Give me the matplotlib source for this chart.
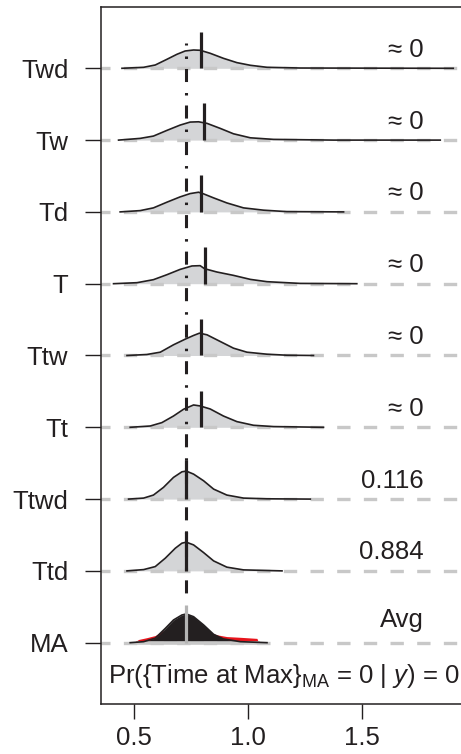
import matplotlib
matplotlib.use("Agg")
import matplotlib.pyplot as plt
import numpy as np

plt.rcParams['font.family'] = ['Liberation Sans', 'DejaVu Sans']
plt.rcParams['mathtext.fontset'] = 'custom'
plt.rcParams['mathtext.rm'] = 'Liberation Sans'
plt.rcParams['mathtext.it'] = 'Liberation Sans:italic'
plt.rcParams['lines.scale_dashes'] = False

# ---------------- data ----------------
models = ['Twd', 'Tw', 'Td', 'T', 'Ttw', 'Tt', 'Ttwd', 'Ttd', 'MA']
row_pos = [8, 7, 6, 5, 4, 3, 2, 1, 0]
probs = ['\u2248 0', '\u2248 0', '\u2248 0', '\u2248 0', '\u2248 0', '\u2248 0',
         '0.116', '0.884', 'Avg']

twd_x = [0.446, 0.541, 0.592, 0.643, 0.687, 0.723, 0.760, 0.789, 0.833, 0.891, 0.950, 1.009, 1.082, 1.228, 1.899]
twd_h = [0, .014, .046, .125, .195, .241, .255, .251, .209, .139, .079, .042, .014, .004, 0]
tw_x = [0.431, 0.526, 0.584, 0.643, 0.701, 0.745, 0.782, 0.819, 0.877, 0.935, 1.009, 1.111, 1.373, 1.842]
tw_h = [0, .024, .056, .135, .209, .251, .255, .233, .163, .088, .032, .010, 0, 0]
td_x = [0.438, 0.526, 0.584, 0.643, 0.701, 0.745, 0.782, 0.804, 0.848, 0.906, 0.979, 1.067, 1.169, 1.418]
td_h = [0, .018, .056, .135, .209, .255, .274, .251, .195, .125, .056, .024, .004, 0]
t_x = [0.409, 0.512, 0.584, 0.643, 0.701, 0.753, 0.789, 0.808, 0.862, 0.935, 1.009, 1.082, 1.228, 1.476]
t_h = [0, .014, .056, .125, .199, .247, .251, .209, .163, .116, .060, .028, .004, 0]
ttw_x = [0.468, 0.555, 0.614, 0.672, 0.723, 0.760, 0.786, 0.819, 0.877, 0.935, 0.994, 1.082, 1.169, 1.286]
ttw_h = [0, .014, .046, .149, .227, .279, .311, .288, .195, .102, .046, .018, .004, 0]
tt_x = [0.482, 0.570, 0.621, 0.672, 0.716, 0.760, 0.789, 0.833, 0.891, 0.950, 1.023, 1.111, 1.330]
tt_h = [0, .018, .065, .157, .251, .311, .297, .255, .157, .079, .028, .010, 0]
ttwd_x = [0.475, 0.541, 0.584, 0.628, 0.672, 0.709, 0.728, 0.760, 0.804, 0.848, 0.906, 0.979, 1.082, 1.272]
ttwd_h = [0, .014, .056, .163, .302, .380, .390, .348, .255, .139, .056, .014, .004, 0]
ttd_x = [0.468, 0.541, 0.592, 0.636, 0.680, 0.709, 0.728, 0.760, 0.804, 0.848, 0.906, 0.979, 1.148]
ttd_h = [0, .018, .060, .177, .316, .386, .400, .362, .255, .139, .052, .014, 0]
ma_x = [0.482, 0.541, 0.592, 0.636, 0.672, 0.709, 0.728, 0.760, 0.804, 0.848, 0.891, 0.965, 1.082]
ma_h = [0, .014, .063, .199, .316, .386, .400, .362, .247, .116, .052, .014, 0]
ma_red_x = [0.496, 0.519, 0.555, 0.592, 0.628, 0.728, 0.833, 0.862, 0.906, 0.965, 1.038, 1.045]
ma_red_h = [0, .045, .070, .100, .167, .279, .140, .110, .085, .075, .060, 0]

mean_x = [0.794, 0.807, 0.794, 0.808, 0.792, 0.792, 0.728, 0.728, 0.728]
mean_h = [.511, .511, .511, .511, .511, .506, .547, .539, .525]
ref_x = 0.728  # reference (MA) value for vertical dot-dash line

dens_x = [twd_x, tw_x, td_x, t_x, ttw_x, tt_x, ttwd_x, ttd_x, ma_x]
dens_h = [twd_h, tw_h, td_h, t_h, ttw_h, tt_h, ttwd_h, ttd_h, ma_h]

xticks = [0.5, 1.0, 1.5]
xtick_labels = ['0.5', '1.0', '1.5']

# ---------------- styles ----------------
INK = '#231f20'
FILL = '#d4d5d7'
BASE = '#c8c8c8'
FS = 18.5

fig = plt.figure(figsize=(4.61, 7.54), dpi=100)
ax = fig.add_axes([101 / 461, 50 / 754, 360 / 461, (704 - 6.7) / 754])
ax.set_xlim(0.354, 1.933)
ax.set_ylim(-0.854, 8.858)

for xs, hs, y0, name in zip(dens_x, dens_h, row_pos, models):
    xs = np.asarray(xs)
    hs = np.asarray(hs)
    if name == 'MA':
        rx = np.asarray(ma_red_x)
        rh = np.asarray(ma_red_h)
        ax.fill_between(rx, y0, y0 + rh, color='#e8141c', lw=0, zorder=1)
        ax.fill_between(xs, y0, y0 + hs, color=INK, lw=0, zorder=1.5)
        ax.plot(xs, y0 + hs, color=INK, lw=1.2, zorder=3, solid_joinstyle='round')
    else:
        ax.fill_between(xs, y0, y0 + hs, color=FILL, lw=0, zorder=1)
        ax.plot(xs, y0 + hs, color=INK, lw=1.2, zorder=3, solid_joinstyle='round')
    # dashed baseline
    ax.plot([0.354, 1.96], [y0, y0], color=BASE, lw=2.4,
            linestyle=(3.1, (9.6, 9.6)), dash_capstyle='butt', zorder=2)

# solid gray band at the base of MA
ax.plot([ma_x[0] + 0.03, ma_x[-1] - 0.03], [0.0, 0.0], color=BASE, lw=2.6,
        solid_capstyle='butt', zorder=2.5)

# vertical reference dot-dash line
ax.plot([ref_x, ref_x], [0.6, 8.35], color=INK, lw=2.2,
        linestyle=(4.6, (1.8, 7.9, 9.4, 7.2)), dash_capstyle='butt', zorder=3.5)

# mean lines
for mx, mh, y0, name in zip(mean_x, mean_h, row_pos, models):
    col = '#b4b4b4' if name == 'MA' else INK
    ax.plot([mx, mx], [y0, y0 + mh], color=col, lw=2.3, solid_capstyle='butt', zorder=4)

# annotations
for p, y0 in zip(probs, row_pos):
    dy = 0.215 if p == 'Avg' else 0.16
    ax.text(1.768, y0 + dy, p, fontsize=FS, color=INK, ha='right', va='baseline')

ax.text(0.386, -0.565, r'Pr({Time at Max}$_{\mathrm{MA}}$ = 0 | $y$) = 0',
        fontsize=FS, color=INK, ha='left', va='baseline')

# axes
ax.set_yticks(row_pos)
ax.set_yticklabels(models)
ax.set_xticks(xticks)
ax.set_xticklabels(xtick_labels)
ax.tick_params(axis='y', length=11.5, width=1.0, pad=12, labelsize=FS, colors=INK)
ax.tick_params(axis='x', length=11, width=1.0, pad=5, labelsize=FS, colors=INK)
for s in ['left', 'top', 'bottom']:
    ax.spines[s].set_linewidth(1.1)
    ax.spines[s].set_color(INK)
ax.spines['right'].set_visible(False)

fig.savefig('out.png', dpi=100)
